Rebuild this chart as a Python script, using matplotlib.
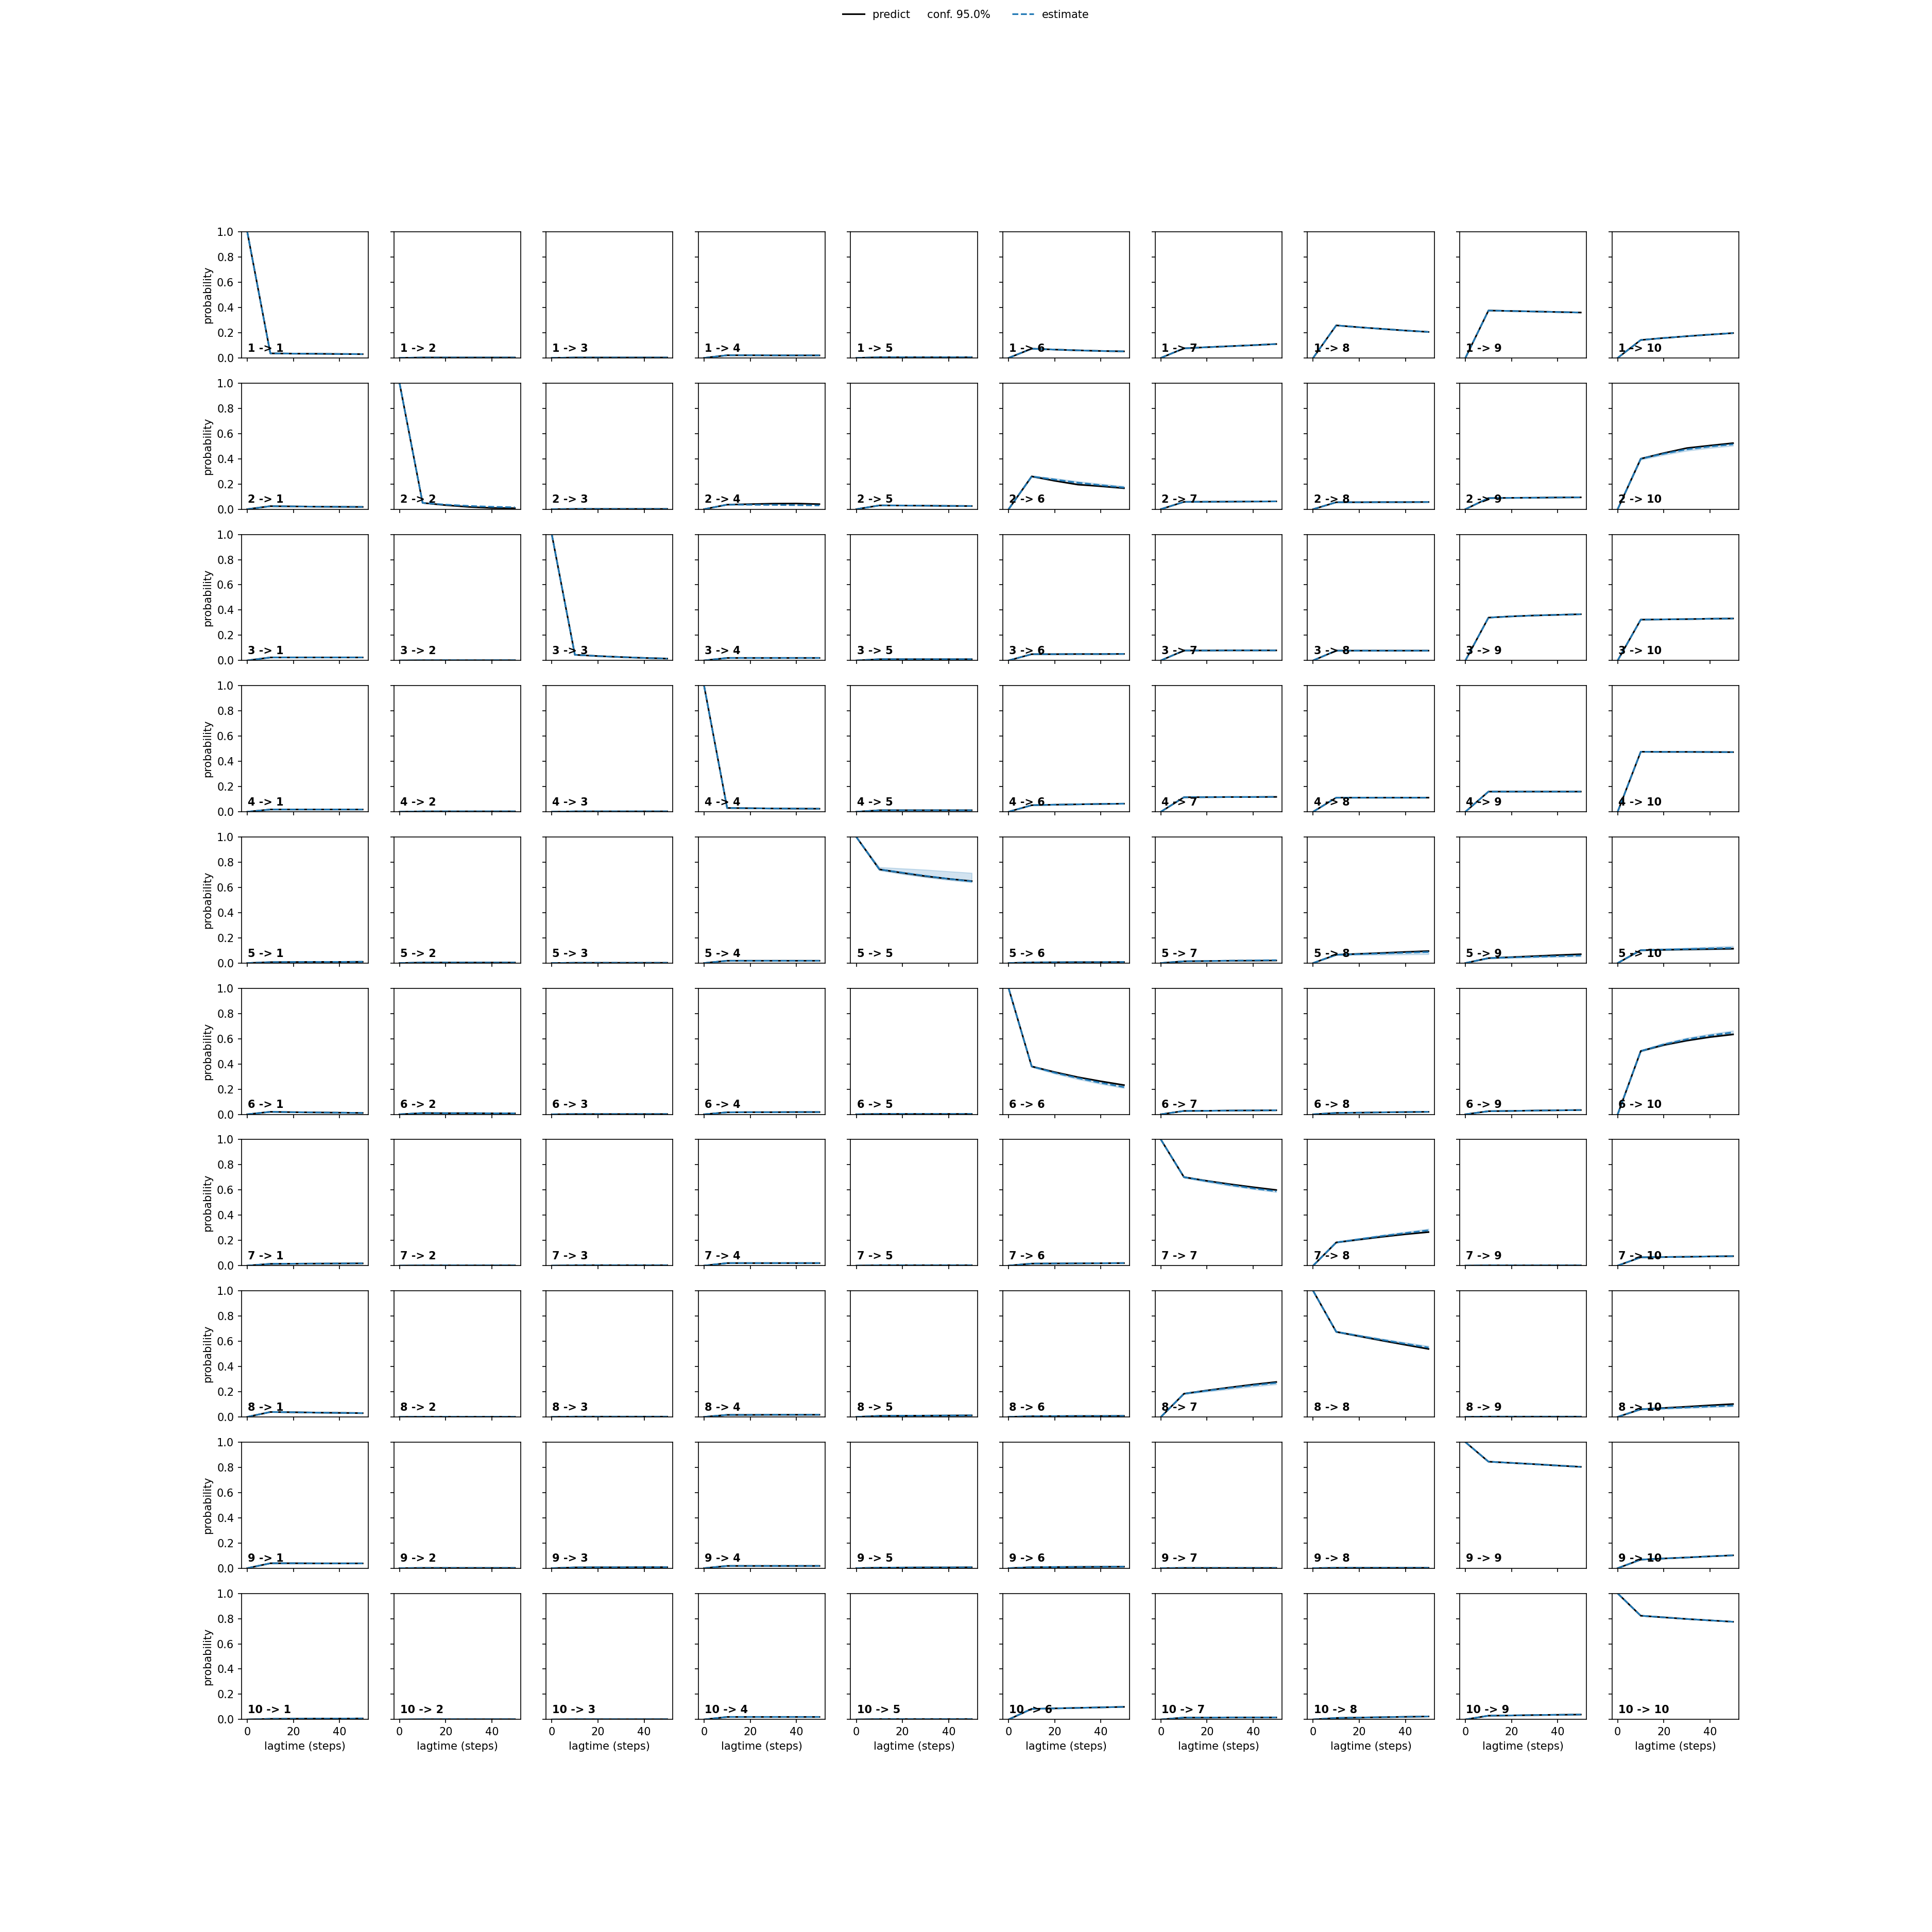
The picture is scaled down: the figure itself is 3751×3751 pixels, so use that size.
import matplotlib
matplotlib.use("Agg")
import matplotlib.pyplot as plt
import numpy as np

lagtimes = [0, 10, 20, 30, 40, 50]
n_states = 10

# predict (black solid), one list of 10 panels per starting state
predict_1 = [
    [1.0, 0.036, 0.034, 0.033, 0.031, 0.030],
    [0.0, 0.003, 0.003, 0.003, 0.003, 0.003],
    [0.0, 0.003, 0.003, 0.003, 0.003, 0.003],
    [0.0, 0.021, 0.021, 0.020, 0.020, 0.020],
    [0.0, 0.005, 0.005, 0.005, 0.005, 0.005],
    [0.0, 0.073, 0.066, 0.060, 0.055, 0.052],
    [0.0, 0.076, 0.085, 0.093, 0.101, 0.110],
    [0.0, 0.258, 0.243, 0.230, 0.217, 0.206],
    [0.0, 0.376, 0.372, 0.368, 0.364, 0.360],
    [0.0, 0.142, 0.158, 0.172, 0.185, 0.197],
]
predict_2 = [
    [0.0, 0.024, 0.022, 0.020, 0.019, 0.018],
    [1.0, 0.050, 0.032, 0.018, 0.010, 0.008],
    [0.0, 0.002, 0.002, 0.002, 0.002, 0.002],
    [0.0, 0.036, 0.040, 0.044, 0.045, 0.040],
    [0.0, 0.030, 0.029, 0.028, 0.026, 0.025],
    [0.0, 0.260, 0.225, 0.195, 0.182, 0.167],
    [0.0, 0.058, 0.059, 0.060, 0.061, 0.062],
    [0.0, 0.055, 0.055, 0.056, 0.056, 0.057],
    [0.0, 0.088, 0.090, 0.091, 0.093, 0.094],
    [0.0, 0.400, 0.445, 0.485, 0.505, 0.524],
]
predict_3 = [
    [0.0, 0.024, 0.024, 0.024, 0.024, 0.024],
    [0.0, 0.002, 0.002, 0.002, 0.002, 0.002],
    [1.0, 0.045, 0.035, 0.027, 0.020, 0.015],
    [0.0, 0.020, 0.020, 0.020, 0.020, 0.020],
    [0.0, 0.010, 0.010, 0.010, 0.010, 0.010],
    [0.0, 0.050, 0.050, 0.051, 0.051, 0.052],
    [0.0, 0.079, 0.079, 0.080, 0.080, 0.080],
    [0.0, 0.078, 0.078, 0.078, 0.078, 0.078],
    [0.0, 0.340, 0.350, 0.357, 0.362, 0.367],
    [0.0, 0.324, 0.326, 0.328, 0.331, 0.333],
]
predict_4 = [
    [0.0, 0.018, 0.018, 0.018, 0.018, 0.018],
    [0.0, 0.003, 0.003, 0.003, 0.003, 0.003],
    [0.0, 0.003, 0.003, 0.003, 0.003, 0.003],
    [1.0, 0.030, 0.028, 0.026, 0.025, 0.024],
    [0.0, 0.012, 0.012, 0.012, 0.012, 0.012],
    [0.0, 0.052, 0.056, 0.059, 0.062, 0.064],
    [0.0, 0.115, 0.116, 0.117, 0.117, 0.118],
    [0.0, 0.112, 0.112, 0.112, 0.112, 0.112],
    [0.0, 0.160, 0.160, 0.160, 0.160, 0.160],
    [0.0, 0.476, 0.475, 0.475, 0.474, 0.473],
]
predict_5 = [
    [0.0, 0.007, 0.008, 0.009, 0.009, 0.010],
    [0.0, 0.004, 0.004, 0.004, 0.004, 0.004],
    [0.0, 0.002, 0.002, 0.002, 0.002, 0.002],
    [0.0, 0.018, 0.018, 0.018, 0.018, 0.018],
    [1.0, 0.743, 0.715, 0.689, 0.668, 0.650],
    [0.0, 0.005, 0.006, 0.007, 0.007, 0.008],
    [0.0, 0.014, 0.016, 0.018, 0.019, 0.020],
    [0.0, 0.066, 0.073, 0.080, 0.088, 0.095],
    [0.0, 0.039, 0.047, 0.055, 0.063, 0.070],
    [0.0, 0.102, 0.105, 0.108, 0.111, 0.114],
]
predict_6 = [
    [0.0, 0.020, 0.017, 0.015, 0.013, 0.011],
    [0.0, 0.010, 0.009, 0.009, 0.008, 0.008],
    [0.0, 0.002, 0.002, 0.002, 0.002, 0.002],
    [0.0, 0.016, 0.017, 0.017, 0.018, 0.018],
    [0.0, 0.003, 0.003, 0.003, 0.003, 0.003],
    [1.0, 0.380, 0.335, 0.295, 0.262, 0.232],
    [0.0, 0.027, 0.028, 0.030, 0.031, 0.032],
    [0.0, 0.011, 0.013, 0.016, 0.018, 0.020],
    [0.0, 0.025, 0.027, 0.030, 0.032, 0.034],
    [0.0, 0.502, 0.550, 0.585, 0.613, 0.634],
]
predict_7 = [
    [0.0, 0.014, 0.015, 0.016, 0.017, 0.018],
    [0.0, 0.002, 0.002, 0.002, 0.002, 0.002],
    [0.0, 0.003, 0.003, 0.003, 0.003, 0.003],
    [0.0, 0.020, 0.020, 0.020, 0.020, 0.020],
    [0.0, 0.003, 0.003, 0.003, 0.003, 0.003],
    [0.0, 0.016, 0.017, 0.018, 0.019, 0.020],
    [1.0, 0.702, 0.672, 0.646, 0.622, 0.600],
    [0.0, 0.184, 0.207, 0.229, 0.249, 0.266],
    [0.0, 0.002, 0.002, 0.002, 0.002, 0.002],
    [0.0, 0.066, 0.068, 0.070, 0.073, 0.075],
]
predict_8 = [
    [0.0, 0.039, 0.037, 0.034, 0.032, 0.030],
    [0.0, 0.001, 0.001, 0.001, 0.001, 0.001],
    [0.0, 0.002, 0.002, 0.002, 0.002, 0.002],
    [0.0, 0.016, 0.016, 0.017, 0.017, 0.017],
    [0.0, 0.008, 0.009, 0.010, 0.011, 0.012],
    [0.0, 0.005, 0.006, 0.007, 0.007, 0.008],
    [0.0, 0.184, 0.210, 0.234, 0.257, 0.277],
    [1.0, 0.675, 0.640, 0.605, 0.572, 0.539],
    [0.0, 0.002, 0.002, 0.002, 0.002, 0.002],
    [0.0, 0.061, 0.071, 0.081, 0.092, 0.102],
]
predict_9 = [
    [0.0, 0.039, 0.039, 0.038, 0.038, 0.038],
    [0.0, 0.002, 0.002, 0.002, 0.002, 0.002],
    [0.0, 0.006, 0.007, 0.007, 0.008, 0.008],
    [0.0, 0.018, 0.018, 0.018, 0.018, 0.018],
    [0.0, 0.004, 0.005, 0.006, 0.006, 0.007],
    [0.0, 0.008, 0.009, 0.010, 0.011, 0.012],
    [0.0, 0.002, 0.002, 0.002, 0.002, 0.002],
    [0.0, 0.003, 0.003, 0.003, 0.003, 0.003],
    [1.0, 0.845, 0.835, 0.825, 0.814, 0.804],
    [0.0, 0.068, 0.077, 0.085, 0.094, 0.102],
]
predict_10 = [
    [0.0, 0.005, 0.006, 0.007, 0.007, 0.008],
    [0.0, 0.002, 0.002, 0.002, 0.002, 0.002],
    [0.0, 0.002, 0.002, 0.002, 0.002, 0.002],
    [0.0, 0.020, 0.020, 0.020, 0.020, 0.020],
    [0.0, 0.003, 0.003, 0.003, 0.003, 0.003],
    [0.0, 0.084, 0.088, 0.092, 0.096, 0.100],
    [0.0, 0.015, 0.015, 0.016, 0.016, 0.016],
    [0.0, 0.012, 0.015, 0.018, 0.021, 0.024],
    [0.0, 0.030, 0.032, 0.035, 0.037, 0.039],
    [1.0, 0.823, 0.810, 0.797, 0.786, 0.775],
]

# estimate (blue dashed): panels where it visibly differs from predict
estimate_diff = {
    (2, 2): [1.0, 0.050, 0.036, 0.026, 0.019, 0.015],
    (2, 4): [0.0, 0.036, 0.035, 0.034, 0.032, 0.030],
    (2, 6): [0.0, 0.260, 0.235, 0.210, 0.190, 0.172],
    (2, 10): [0.0, 0.400, 0.440, 0.475, 0.497, 0.515],
    (5, 5): [1.0, 0.743, 0.717, 0.692, 0.668, 0.648],
    (5, 7): [0.0, 0.014, 0.016, 0.019, 0.021, 0.023],
    (5, 8): [0.0, 0.066, 0.071, 0.076, 0.082, 0.088],
    (5, 9): [0.0, 0.039, 0.045, 0.050, 0.055, 0.060],
    (5, 10): [0.0, 0.102, 0.107, 0.111, 0.116, 0.120],
    (6, 6): [1.0, 0.380, 0.330, 0.288, 0.250, 0.216],
    (6, 10): [0.0, 0.502, 0.555, 0.595, 0.625, 0.650],
    (7, 7): [1.0, 0.702, 0.670, 0.640, 0.613, 0.590],
    (7, 8): [0.0, 0.184, 0.210, 0.235, 0.258, 0.280],
    (8, 7): [0.0, 0.184, 0.208, 0.230, 0.251, 0.270],
    (8, 8): [1.0, 0.675, 0.643, 0.611, 0.580, 0.550],
    (8, 10): [0.0, 0.061, 0.068, 0.075, 0.083, 0.090],
}

# 95% confidence band (light blue), visible panels
conf_lower = {
    (2, 6): [0.0, 0.255, 0.226, 0.200, 0.180, 0.162],
    (2, 10): [0.0, 0.392, 0.430, 0.463, 0.485, 0.503],
    (5, 5): [1.0, 0.735, 0.705, 0.680, 0.658, 0.640],
    (5, 8): [0.0, 0.062, 0.064, 0.066, 0.068, 0.070],
    (5, 9): [0.0, 0.036, 0.040, 0.044, 0.048, 0.052],
    (5, 10): [0.0, 0.098, 0.101, 0.104, 0.106, 0.108],
    (6, 6): [1.0, 0.374, 0.322, 0.278, 0.240, 0.208],
    (6, 10): [0.0, 0.496, 0.545, 0.582, 0.610, 0.632],
    (7, 7): [1.0, 0.696, 0.662, 0.632, 0.606, 0.583],
    (7, 8): [0.0, 0.180, 0.203, 0.226, 0.247, 0.266],
    (8, 7): [0.0, 0.180, 0.200, 0.220, 0.240, 0.258],
    (8, 8): [1.0, 0.670, 0.636, 0.602, 0.569, 0.538],
    (8, 10): [0.0, 0.058, 0.063, 0.069, 0.076, 0.083],
}
conf_upper = {
    (2, 6): [0.0, 0.266, 0.245, 0.221, 0.201, 0.183],
    (2, 10): [0.0, 0.408, 0.450, 0.486, 0.509, 0.527],
    (5, 5): [1.0, 0.760, 0.750, 0.740, 0.727, 0.715],
    (5, 8): [0.0, 0.070, 0.078, 0.086, 0.094, 0.100],
    (5, 9): [0.0, 0.042, 0.050, 0.056, 0.062, 0.068],
    (5, 10): [0.0, 0.106, 0.114, 0.121, 0.128, 0.135],
    (6, 6): [1.0, 0.386, 0.338, 0.298, 0.262, 0.232],
    (6, 10): [0.0, 0.508, 0.565, 0.607, 0.638, 0.664],
    (7, 7): [1.0, 0.708, 0.678, 0.648, 0.621, 0.600],
    (7, 8): [0.0, 0.188, 0.217, 0.244, 0.268, 0.292],
    (8, 7): [0.0, 0.188, 0.216, 0.240, 0.262, 0.282],
    (8, 8): [1.0, 0.680, 0.650, 0.620, 0.591, 0.563],
    (8, 10): [0.0, 0.064, 0.073, 0.082, 0.090, 0.098],
}

predict_rows = [predict_1, predict_2, predict_3, predict_4, predict_5,
                predict_6, predict_7, predict_8, predict_9, predict_10]

conf_label = 'predict     conf. 95.0%'
est_label = 'estimate'

fig, axes = plt.subplots(n_states, n_states, sharex=True, sharey=True,
                         figsize=(3751 / 150, 3751 / 150))

for i in range(n_states):
    for j in range(n_states):
        ax = axes[i, j]
        pred = predict_rows[i][j]
        est = estimate_diff.get((i + 1, j + 1), pred)
        lpred = ax.plot(lagtimes, pred, color='black')
        if (i + 1, j + 1) in conf_lower:
            ax.fill_between(lagtimes, conf_lower[(i + 1, j + 1)],
                            conf_upper[(i + 1, j + 1)], color='C0', alpha=0.2)
        lest = ax.plot(lagtimes, est, color='C0', linestyle='dashed')
        ax.text(0.05, 0.05, str(i + 1) + ' -> ' + str(j + 1),
                transform=ax.transAxes, weight='bold')
        ax.set_ylim(0, 1)
        if j == 0:
            ax.set_ylabel('probability')
        if i == n_states - 1:
            ax.set_xlabel('lagtime (steps)')

fig.legend((lpred[0], lest[0]), (conf_label, est_label), loc='upper center',
           ncol=2, frameon=False)

fig.savefig('out.png', dpi=150)
